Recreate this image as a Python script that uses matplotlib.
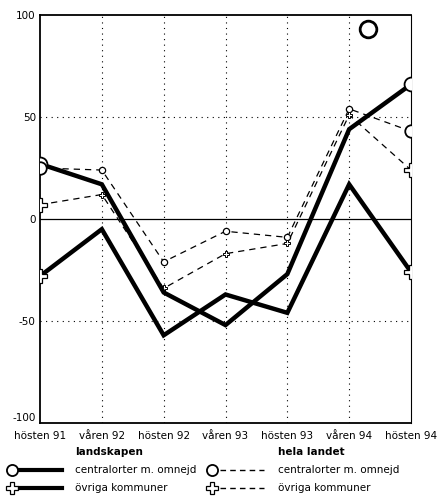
import matplotlib.pyplot as plt
from matplotlib.lines import Line2D

# periods on the x axis
periods = ["hösten 91", "våren 92", "hösten 92", "våren 93",
           "hösten 93", "våren 94", "hösten 94"]

# landskapen (solid lines)
land_central = [27, 17, -36, -52, -27, 44, 66]
land_ovriga = [-28, -5, -57, -37, -46, 17, -26]

# hela landet (dashed lines)
hela_central = [25, 24, -21, -6, -9, 54, 43]
hela_ovriga = [7, 12, -34, -17, -12, 51, 24]

# stray symbol at the top of the chart
extra_x = [5.3]
extra_y = [93]

x = list(range(len(periods)))

plt.rcParams['font.family'] = ['DejaVu Sans']

fig = plt.figure(figsize=(4.38, 4.96), dpi=100)
ax = fig.add_axes([40 / 438, 1 - 423 / 496, 371 / 438, 408 / 496])

# =========================
# Grid
# =========================
for xi in x[1:-1]:
    ax.axvline(xi, color='black', lw=0.8, ls=(0, (1, 4)), zorder=0)
for yi in [50, -50]:
    ax.axhline(yi, color='black', lw=0.8, ls=(0, (1, 4)), zorder=0)
ax.axhline(0, color='black', lw=0.9, zorder=1)

# =========================
# Dashed lines (hela landet)
# =========================
ax.plot(x, hela_central, color='black', lw=0.9, ls=(0, (5, 4)),
        marker='o', ms=4.5, mfc='white', mec='black', mew=0.9, zorder=3)
ax.plot(x, hela_ovriga, color='black', lw=0.9, ls=(0, (5, 4)),
        marker='P', ms=5, mfc='white', mec='black', mew=0.7, zorder=3)
# larger end markers
ax.plot([x[0], x[-1]], [hela_central[0], hela_central[-1]], ls='none',
        marker='o', ms=9, mfc='white', mec='black', mew=1.3, zorder=5)
ax.plot([x[0], x[-1]], [hela_ovriga[0], hela_ovriga[-1]], ls='none',
        marker='P', ms=10, mfc='white', mec='black', mew=0.9, zorder=5)

# =========================
# Solid lines (landskapen)
# =========================
ax.plot(x, land_central, color='black', lw=3.2, solid_joinstyle='miter',
        marker='o', markevery=[0, len(x) - 1], ms=10,
        mfc='white', mec='black', mew=1.3, zorder=4)
ax.plot(x, land_ovriga, color='black', lw=3.2, solid_joinstyle='miter',
        marker='P', markevery=[0, len(x) - 1], ms=10,
        mfc='white', mec='black', mew=0.9, zorder=4)

ax.plot(extra_x, extra_y, ls='none', marker='o', ms=12,
        mfc='white', mec='black', mew=2, zorder=5)

# =========================
# Axes
# =========================
ax.set_xlim(0, len(x) - 1)
ax.set_ylim(-100, 100)
ax.set_xticks(x)
ax.set_xticklabels(periods, fontsize=7.5)
ax.set_yticks([100, 50, 0, -50, -100])
ax.set_yticklabels(['100', '50', '0', '-50', '-100'], fontsize=7.5)
ax.tick_params(length=0)
ax.tick_params(axis='x', pad=6)
ax.tick_params(axis='y', pad=3)
ax.get_yticklabels()[-1].set_va('bottom')
for side in ['top', 'left', 'bottom']:
    ax.spines[side].set_linewidth(1.3)
ax.spines['right'].set_linewidth(0.8)

# =========================
# Legend
# =========================
lax = fig.add_axes([0, 0, 1, 1])
lax.set_xlim(0, 438)
lax.set_ylim(496, 0)
lax.axis('off')

lax.text(75, 452, 'landskapen', fontsize=7.5, fontweight='bold', va='center')
lax.text(278, 452, 'hela landet', fontsize=7.5, fontweight='bold', va='center')

rows = [(470, 'o', 'centralorter m. omnejd'), (488, 'P', 'övriga kommuner')]
for yy, mk, label in rows:
    lax.add_line(Line2D([12], [yy], marker=mk, ms=8, mfc='white',
                        mec='black', mew=1.3 if mk == 'o' else 0.9, ls='none'))
    lax.add_line(Line2D([20, 62], [yy, yy], color='black', lw=3))
    lax.text(75, yy, label, fontsize=7.5, va='center')

    lax.add_line(Line2D([212], [yy], marker=mk, ms=8, mfc='white',
                        mec='black', mew=1.3 if mk == 'o' else 0.9, ls='none'))
    lax.add_line(Line2D([220, 264], [yy, yy], color='black', lw=1,
                        ls=(0, (4, 3))))
    lax.text(278, yy, label, fontsize=7.5, va='center')

fig.savefig('out.png', dpi=100)
